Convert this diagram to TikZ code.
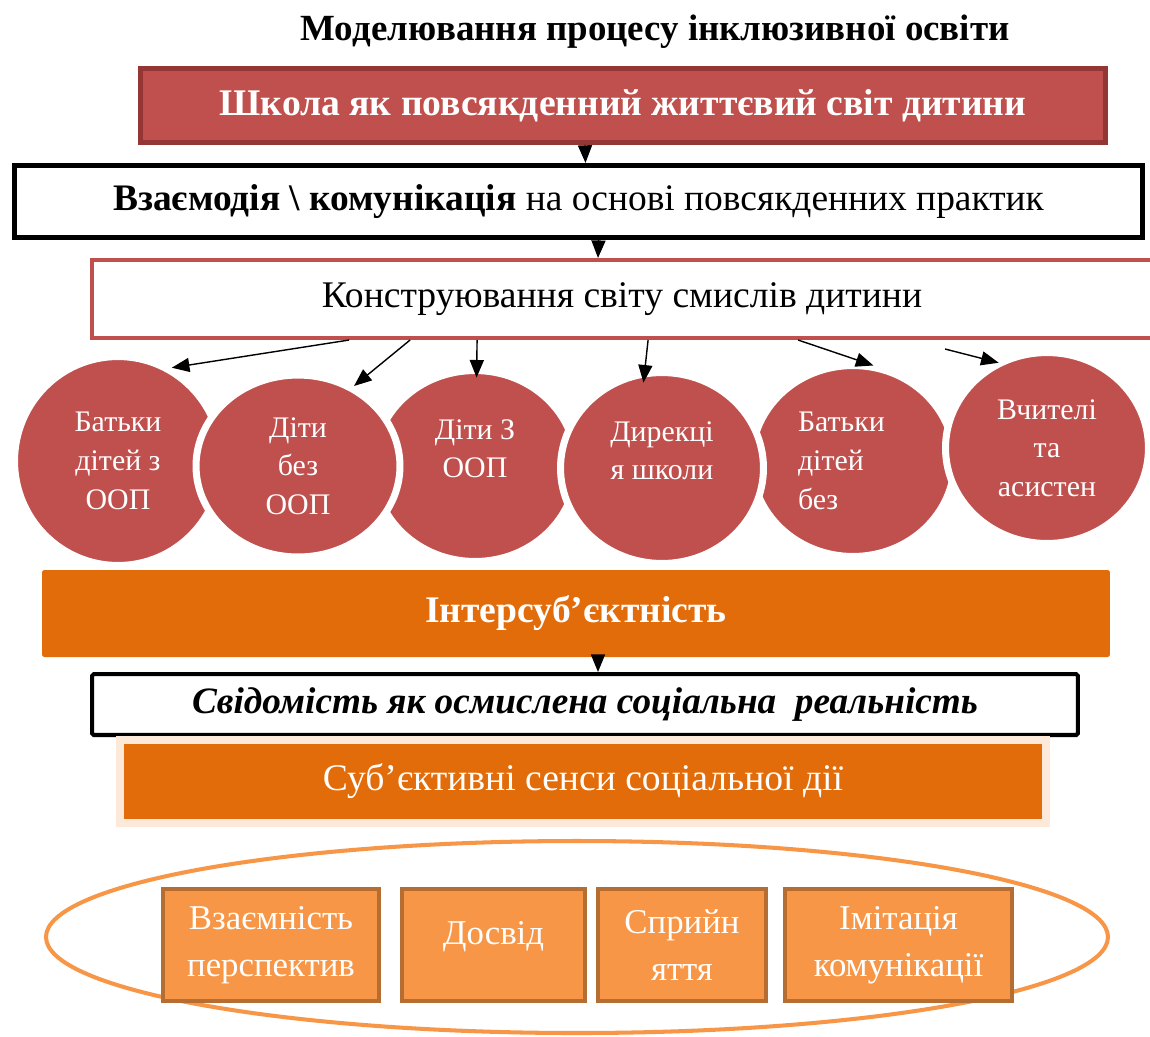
\documentclass[tikz,border=0pt]{standalone}
\usepackage{fontspec}
\setmainfont{Liberation Serif}
\usetikzlibrary{calc,shadows,arrows.meta,shapes.geometric}

\definecolor{redbox}{HTML}{C0504D}
\definecolor{redline}{HTML}{943634}
\definecolor{orbox}{HTML}{E36C0A}
\definecolor{orlight}{HTML}{F79646}
\definecolor{orline}{HTML}{B66D31}
\definecolor{peach}{HTML}{FDE9D9}

\begin{document}
\begin{tikzpicture}[x=0.02cm, y=-0.02cm,
    box/.style={rectangle, inner sep=0pt, align=center},
    circ/.style={ellipse, draw=white, line width=4pt, fill=redbox, text=white,
        minimum width=4.06cm, minimum height=3.82cm, inner sep=0pt, align=center,
        font=\fontsize{17}{22}\selectfont,
        drop shadow={shadow xshift=1pt, shadow yshift=-1.5pt, opacity=0.15}},
    small/.style={box, draw=orline, line width=2.3pt, fill=orlight, text=white,
        minimum height=2.24cm, font=\fontsize{19.8}{27}\selectfont},
    arr/.style={>={Triangle[length=10pt,width=8pt]}, ->, line width=0.8pt}]

    \useasboundingbox (0,0) rectangle (1150,1036);
    \clip (0,0) rectangle (1150,1036);

    % title
    \node[box, font=\fontsize{21}{24}\selectfont\bfseries] (title) at (655,32)
        {Моделювання процесу інклюзивної освіти};

    % top boxes
    \node[box, draw=redline, line width=2.8pt, fill=redbox, text=white,
        minimum width=19.3cm, minimum height=1.48cm,
        font=\fontsize{21.4}{24}\selectfont\bfseries] (skola) at (623,105.5)
        {Школа як повсякденний життєвий світ дитини};
    \node[box, draw=black, line width=3pt, minimum width=22.56cm, minimum height=1.44cm,
        font=\fontsize{21.3}{24}\selectfont] (vzaem) at (578.5,201.5)
        {\textbf{Взаємодія \textbackslash{} комунікація} на основі повсякденних практик};
    \node[box, draw=redbox, line width=2.3pt, minimum width=21.2cm, minimum height=1.56cm,
        font=\fontsize{21.4}{24}\selectfont] (kon) at (622,299)
        {Конструювання світу смислів дитини};

    % circles
    \node[circ, minimum width=4.14cm, minimum height=4.18cm] (c1) at (118,461) {Батьки\\дітей з\\ООП};
    \node[circ, text depth=20pt] (c3) at (475,466) {Діти З\\ООП};
    \node[circ, align=left, text width=2.2cm] (c5) at (853,461) {Батьки\\дітей\\без};
    \node[circ, minimum width=4.08cm, minimum height=3.64cm] (c2) at (298,466) {Діти\\без\\ООП};
    \node[circ, text depth=20pt] (c4) at (662,468) {Дирекці\\я школи};
    \node[circ] (c6) at (1047,448) {Вчителі\\та\\асистен};

    % lower boxes
    \node[box, fill=orbox, rounded corners=1pt, text=white, minimum width=21.36cm,
        minimum height=1.74cm, font=\fontsize{21.4}{24}\selectfont\bfseries] (inter) at (576,613.5)
        {Інтерсуб’єктність};
    \node[box, draw=black, line width=2.3pt, rounded corners=1pt, minimum width=19.72cm,
        minimum height=1.22cm, font=\fontsize{21.2}{24}\selectfont\bfseries\itshape] (svid) at (585,704.5)
        {Свідомість як осмислена соціальна \ реальність};
    \node[box, draw=peach, line width=4.5pt, fill=orbox, text=white, minimum width=18.52cm,
        minimum height=1.66cm, font=\fontsize{21.4}{24}\selectfont,
        drop shadow={shadow xshift=0pt, shadow yshift=-2pt, opacity=0.3}] (subj) at (583,781.5)
        {Суб’єктивні сенси соціальної дії};

    % oval with the four boxes
    \draw[orlight, line width=2.3pt] (577,937) ellipse [x radius=531, y radius=96];
    \node[small, minimum width=4.32cm] (b1) at (271,945) {Взаємність\\перспектив};
    \node[small, minimum width=3.66cm, text depth=14pt] (b2) at (493.5,945) {Досвід};
    \node[small, minimum width=3.36cm] (b3) at (682,945) {Сприйн\\яття};
    \node[small, minimum width=4.54cm] (b4) at (898.5,945) {Імітація\\комунікації};

    % arrows
    \draw[arr] ($(skola.south)+(-38,0)$) -- ($(vzaem.north)+(7,0)$);
    \draw[arr] ($(vzaem.south)+(20,0)$) -- ($(kon.north)+(-24,0)$);
    \draw[arr] ($(inter.south)+(22,0)$) -- ($(svid.north)+(13,0)$);
    \foreach \dx/\dy/\c/\a/\s in {259/0/c1/60/0, 320/0/c2/55/0, 387/0/c3/89/-6,
                                  558/0/c4/100/-7, 708/0/c5/83/-5, 855/9/c6/121/-2}
        \draw[arr, shorten >=\s pt] ($(kon.south west)+(\dx,\dy)$) -- (\c.\a);

\end{tikzpicture}
\end{document}
